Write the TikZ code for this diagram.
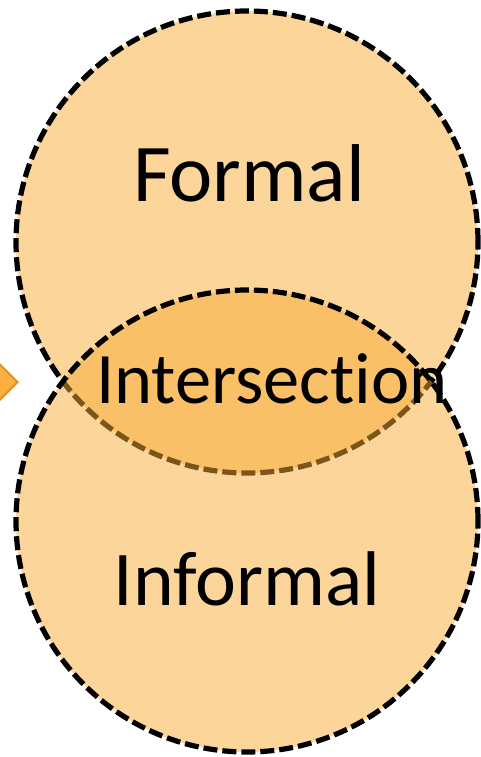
\documentclass[tikz,border=0pt]{standalone}
\usepackage{fontspec}
\setmainfont[Ligatures=NoCommon]{Carlito}
\usetikzlibrary{shapes.geometric}
\definecolor{circfill}{RGB}{249,171,55}
\definecolor{diafill}{RGB}{251,176,64}
\definecolor{diaedge}{RGB}{217,149,44}
\tikzset{
  venn/.style={circle, minimum size=462pt, inner sep=0pt, fill=circfill, fill opacity=0.5, draw=black, draw opacity=1, line width=5.2pt, dash pattern=on 14pt off 5pt},
  label/.style={inner sep=0pt, anchor=base, text=black},
  marker/.style={diamond, minimum width=38pt, minimum height=38pt, inner sep=0pt, fill=diafill, draw=diaedge, line width=2pt}
}
\begin{document}
\begin{tikzpicture}[x=1pt,y=-1pt]
\useasboundingbox (0,0) rectangle (481,757);
\node[venn] (formalc) at (247,242) {};
\node[venn] (informalc) at (247,521) {};
\node[marker] (mark) at (-1,382) {};
\node[label, font=\fontsize{82}{82}\selectfont] (formal) at (249,201) {Formal};
\node[label, font=\fontsize{72.5}{72.5}\selectfont] (inter) at (272,403) {Intersection};
\node[label, font=\fontsize{77.5}{77.5}\selectfont] (informal) at (247,605) {Informal};
\end{tikzpicture}
\end{document}
